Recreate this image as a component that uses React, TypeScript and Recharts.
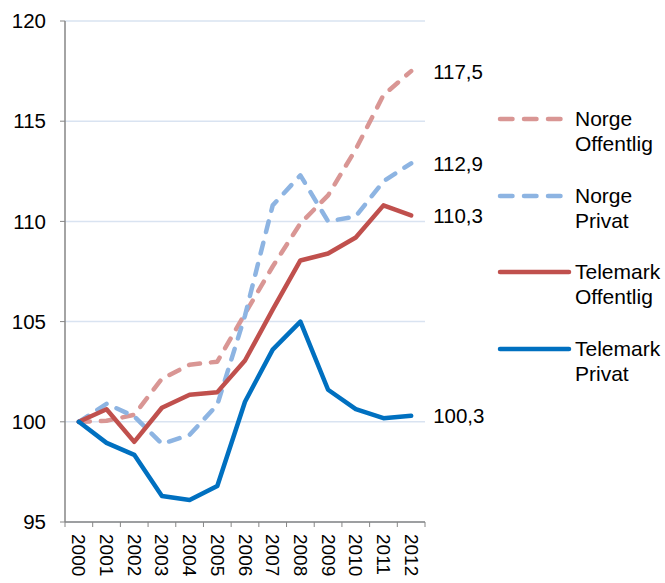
import { CartesianGrid, LabelList, Legend, Line, LineChart, XAxis, YAxis } from "recharts";

const years = ["2000", "2001", "2002", "2003", "2004", "2005", "2006", "2007", "2008", "2009", "2010", "2011", "2012"];
const norgeOffentlig = [100, 100.05, 100.35, 102.15, 102.85, 103.0, 105.4, 107.75, 109.9, 111.3, 113.6, 116.3, 117.5];
const norgePrivat = [100, 100.9, 100.27, 98.9, 99.35, 100.85, 105.3, 110.8, 112.3, 110.0, 110.25, 112.0, 112.9];
const telemarkOffentlig = [100, 100.63, 99.0, 100.7, 101.35, 101.48, 103.06, 105.6, 108.05, 108.4, 109.2, 110.8, 110.3];
const telemarkPrivat = [100, 98.95, 98.35, 96.3, 96.1, 96.8, 101.0, 103.6, 105.0, 101.6, 100.63, 100.18, 100.3];
const yTicks = [95, 100, 105, 110, 115, 120];

const series = [
  { key: "norgeOffentlig", name: "Norge Offentlig", color: "#D99694", dash: "11 11", values: norgeOffentlig },
  { key: "norgePrivat", name: "Norge Privat", color: "#8DB4E2", dash: "11 11", values: norgePrivat },
  { key: "telemarkOffentlig", name: "Telemark Offentlig", color: "#C0504D", dash: undefined, values: telemarkOffentlig },
  { key: "telemarkPrivat", name: "Telemark Privat", color: "#0070C0", dash: undefined, values: telemarkPrivat },
];

const data = years.map((year, i) => {
  const row: Record<string, string | number> = { year };
  series.forEach((s) => (row[s.key] = s.values[i]));
  return row;
});

const W = 665;
const H = 583;
const PLOT_LEFT = 65;
const PLOT_RIGHT = 425;
const HALF_BAND = (PLOT_RIGHT - PLOT_LEFT) / years.length / 2;
const FONT = "'Liberation Sans', Arial, sans-serif";
const AXIS = "#868686";

function YearTick(props: any) {
  const { x, y, payload, index } = props;
  const ty = y + 12;
  return (
    <g>
      <line x1={x - HALF_BAND} x2={x - HALF_BAND} y1={y} y2={y + 5} stroke={AXIS} />
      {index === years.length - 1 && (
        <line x1={x + HALF_BAND} x2={x + HALF_BAND} y1={y} y2={y + 5} stroke={AXIS} />
      )}
      <text
        x={x}
        y={ty}
        transform={`rotate(90 ${x} ${ty})`}
        textAnchor="start"
        dominantBaseline="central"
        fontSize={19}
        fill="#000"
      >
        {payload.value}
      </text>
    </g>
  );
}

function endLabel(props: any) {
  const { x, y, index, value } = props;
  if (index !== years.length - 1) return null;
  return (
    <text x={x + 22} y={y} dominantBaseline="central" fontSize={20.5} fill="#000">
      {Number(value).toFixed(1).replace(".", ",")}
    </text>
  );
}

function LegendBox() {
  return (
    <div>
      {series.map((s) => {
        const [first, ...rest] = s.name.split(" ");
        return (
          <div key={s.key} style={{ position: "relative", height: 76.7, fontSize: 21, lineHeight: "25px" }}>
            <svg width={76} height={10} style={{ position: "absolute", left: -1, top: 8 }}>
              <line
                x1={3}
                x2={72}
                y1={5}
                y2={5}
                stroke={s.color}
                strokeWidth={4.5}
                strokeDasharray={s.dash ? "12.5 11.5" : undefined}
                strokeLinecap="round"
              />
            </svg>
            <div style={{ position: "absolute", left: 77, top: 0, color: "#000", whiteSpace: "nowrap" }}>
              <div>{first}</div>
              <div>{rest.join(" ")}</div>
            </div>
          </div>
        );
      })}
    </div>
  );
}

export default function App() {
  return (
    <div style={{ position: "absolute", left: 0, top: 0, width: W, height: H, background: "#fff", fontFamily: FONT }}>
      <LineChart width={W} height={H} data={data} margin={{ top: 21, right: W - PLOT_RIGHT, bottom: 0, left: 0 }}>
        <CartesianGrid vertical={false} stroke="#D9E3F1" strokeWidth={1.5} />
        <XAxis
          dataKey="year"
          height={61}
          padding={{ left: HALF_BAND, right: HALF_BAND }}
          axisLine={{ stroke: AXIS, strokeWidth: 1.5 }}
          tickLine={false}
          tickSize={0}
          tickMargin={0}
          interval={0}
          tick={<YearTick />}
        />
        <YAxis
          width={PLOT_LEFT}
          domain={[95, 120]}
          ticks={yTicks}
          interval={0}
          axisLine={{ stroke: AXIS, strokeWidth: 1.5 }}
          tickLine={{ stroke: AXIS }}
          tickSize={5}
          tickMargin={14}
          tick={{ fill: "#000", fontSize: 20.5 }}
        />
        <Legend
          layout="vertical"
          align="center"
          verticalAlign="middle"
          content={<LegendBox />}
          wrapperStyle={{ left: 498, top: 106, width: 167 }}
        />
        {series.map((s) => (
          <Line
            key={s.key}
            dataKey={s.key}
            name={s.name}
            type="linear"
            stroke={s.color}
            strokeWidth={4.5}
            strokeDasharray={s.dash}
            strokeLinecap="round"
            strokeLinejoin="round"
            dot={false}
            activeDot={false}
            isAnimationActive={false}
          >
            <LabelList dataKey={s.key} content={endLabel} />
          </Line>
        ))}
      </LineChart>
    </div>
  );
}
